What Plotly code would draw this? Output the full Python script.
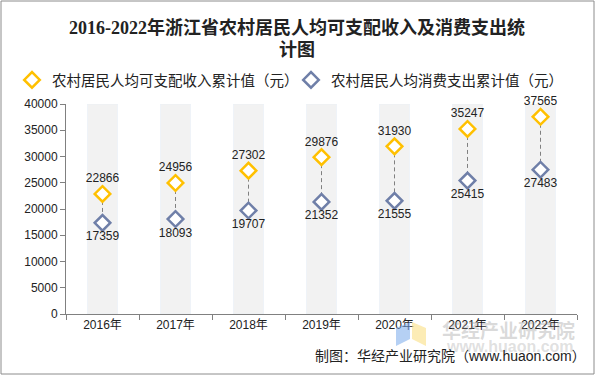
import plotly.graph_objects as go

years = ["2016年", "2017年", "2018年", "2019年", "2020年", "2021年", "2022年"]
income = [22866, 24956, 27302, 29876, 31930, 35247, 37565]
consumption = [17359, 18093, 19707, 21352, 21555, 25415, 27483]
band_top = [40000] * len(years)

income_name = "农村居民人均可支配收入累计值（元）"
cons_name = "农村居民人均消费支出累计值（元）"

YELLOW = "#FFC000"
BLUE = "#6F7FA8"
FONT = "Liberation Sans, Arial, Noto Sans CJK SC"

fig = go.Figure()

# grey background bands
fig.add_trace(go.Bar(x=years, y=band_top, marker_color="#F2F2F2", width=0.41,
                     hoverinfo="skip", showlegend=False))

# dashed connectors
lx, ly = [], []
for yr, a, b in zip(years, income, consumption):
    lx += [yr, yr, None]
    ly += [a, b, None]
fig.add_trace(go.Scatter(x=lx, y=ly, mode="lines",
                         line=dict(color="#808080", width=1, dash="4px,3px"),
                         hoverinfo="skip", showlegend=False))

fig.add_trace(go.Scatter(
    x=years, y=income, name=income_name, mode="markers+text", legend="legend",
    marker=dict(symbol="diamond", size=12, color="white", line=dict(color=YELLOW, width=2.5)),
    text=[str(v) for v in income], textposition="top center", cliponaxis=False,
    textfont=dict(size=12, color="#222222", family=FONT)))
fig.add_trace(go.Scatter(
    x=years, y=consumption, name=cons_name, mode="markers+text", legend="legend2",
    marker=dict(symbol="diamond", size=12, color="white", line=dict(color=BLUE, width=2.5)),
    text=[str(v) for v in consumption], textposition="bottom center", cliponaxis=False,
    textfont=dict(size=12, color="#222222", family=FONT)))

L, R, T, B = 66, 18, 104, 61
W, H = 595, 375
pw, ph = W - L - R, H - T - B

def px(x):
    return (x - L) / pw

def py(y):
    return (H - B - y) / ph

shapes = [
    dict(type="rect", xref="paper", yref="paper", x0=px(1), x1=px(594), y0=py(374), y1=py(1),
         line=dict(color="#8C8C8C", width=1), fillcolor="rgba(0,0,0,0)", layer="above"),
    # faint logo
    dict(type="path", xref="paper", yref="paper",
         path=f"M {px(396)},{py(346)} L {px(410)},{py(339)} L {px(410)},{py(322)} L {px(396)},{py(328)} Z",
         fillcolor="rgba(120,170,235,0.55)", line=dict(width=0), layer="above"),
    dict(type="path", xref="paper", yref="paper",
         path=f"M {px(412)},{py(339)} L {px(426)},{py(346)} L {px(426)},{py(328)} L {px(412)},{py(322)} Z",
         fillcolor="rgba(250,220,120,0.55)", line=dict(width=0), layer="above"),
]

legend_common = dict(orientation="h", xref="container", yref="container", xanchor="left",
                     yanchor="middle", y=1 - 80 / H, font=dict(size=14.5, color="#222222"),
                     itemwidth=30, bgcolor="rgba(0,0,0,0)")

TITLE_FONT = dict(family="Liberation Serif, Noto Sans CJK SC", size=18, color="#222222", weight="bold")

fig.update_layout(
    width=W, height=H,
    margin=dict(l=L, r=R, t=T, b=B, autoexpand=False),
    paper_bgcolor="white", plot_bgcolor="white",
    font=dict(family=FONT, size=12, color="#222222"),
    legend=dict(x=12 / W, **legend_common),
    legend2=dict(x=291 / W, **legend_common),
    barmode="overlay",
    showlegend=True,
    xaxis=dict(showline=True, linecolor="#808080", linewidth=1, ticks="outside",
               tickson="boundaries", ticklen=5, tickcolor="#808080",
               tickfont=dict(size=12), showgrid=False, tickangle=0),
    yaxis=dict(range=[0, 40000], dtick=5000, tickformat="d", showline=True, linecolor="#808080",
               linewidth=1, ticks="outside", ticklen=5, tickcolor="#808080",
               showgrid=False, zeroline=False, tickfont=dict(size=12)),
    shapes=shapes,
    annotations=[
        dict(text="2016-2022年浙江省农村居民人均可支配收入及消费支出统", xref="paper", yref="paper",
             x=px(297), y=py(27), xanchor="center", yanchor="middle", showarrow=False,
             font=TITLE_FONT),
        dict(text="计图", xref="paper", yref="paper",
             x=px(297), y=py(50), xanchor="center", yanchor="middle", showarrow=False,
             font=TITLE_FONT),
        dict(text="华经产业研究院", xref="paper", yref="paper", x=px(508), y=py(331),
             xanchor="center", yanchor="middle", showarrow=False,
             font=dict(size=19, color="rgba(150,150,150,0.35)", weight="bold")),
        dict(text="www.huaon.com", xref="paper", yref="paper", x=px(510), y=py(346),
             xanchor="center", yanchor="middle", showarrow=False,
             font=dict(size=16, color="rgba(150,150,150,0.3)", weight="bold")),
        dict(text="制图：华经产业研究院（www.huaon.com）", xref="paper", yref="paper",
             x=px(588), y=py(356), xanchor="right", yanchor="middle", showarrow=False,
             font=dict(size=14, color="#222222")),
    ],
)

fig.write_html("out.html", config={"displayModeBar": False},
               post_script="document.body.style.margin='0';document.body.style.padding='0';"
                           "document.body.style.overflow='hidden';")
